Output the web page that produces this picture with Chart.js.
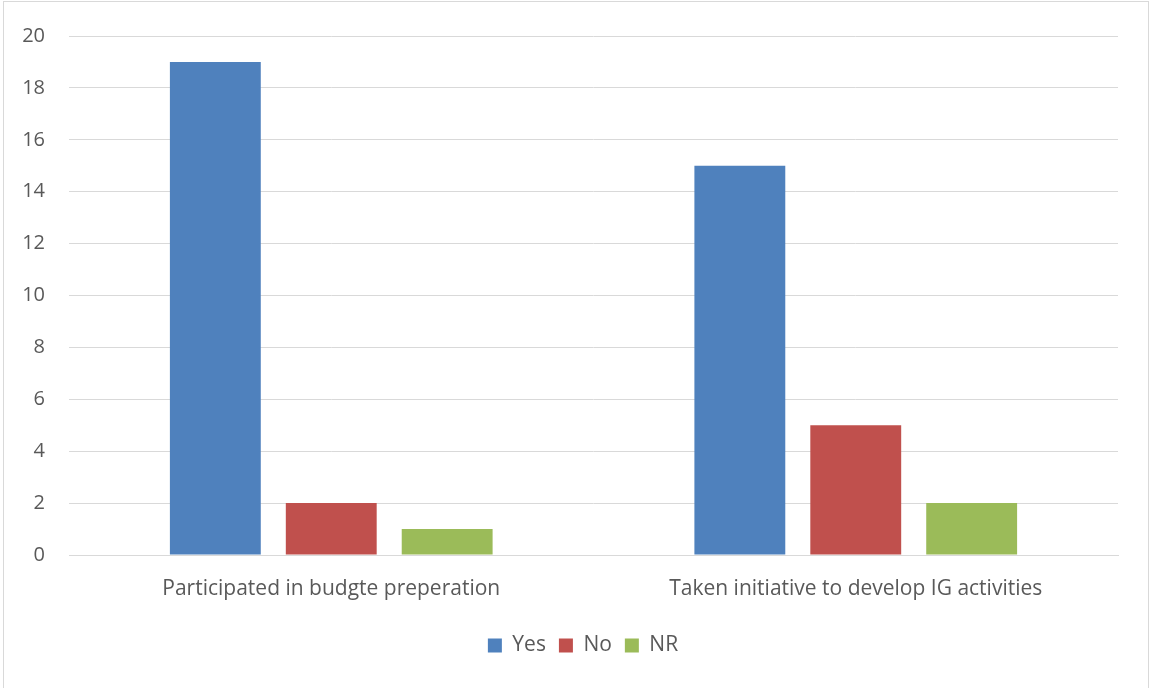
<!DOCTYPE html>
<html>
<head>
<meta charset="utf-8">
<script src="https://cdn.jsdelivr.net/npm/chart.js@4"></script>
<style>
  body { margin: 0; background: #fff; }
  #wrap { position: absolute; left: 0; top: 0; width: 1153px; height: 688px; }
  #frame { position: absolute; left: 3px; top: 1px; width: 1146px; height: 690px; border: 1px solid #d9d9d9; box-sizing: border-box; }
</style>
</head>
<body>
<div id="wrap">
  <div id="frame"></div>
  <canvas id="chart" width="1153" height="688"></canvas>
</div>
<script>
const categories = ["Participated in budgte preperation", "Taken initiative to develop IG activities"];
const seriesNames = ["Yes", "No", "NR"];
const yesValues = [19, 15];
const noValues = [2, 5];
const nrValues = [1, 2];
const colors = ["#4F81BD", "#C0504D", "#9BBB59"];

const fontFamily = "'Open Sans', Lato, sans-serif";
const textColor = "#595959";

// nudge the legend right so it sits where the original has it
const legendShift = {
    id: "legendShift",
    afterLayout(chart) {
        chart.legend.left += 24;
        chart.legend.right += 24;
    }
};

new Chart(document.getElementById("chart"), {
    type: "bar",
    data: {
        labels: categories,
        datasets: [yesValues, noValues, nrValues].map((vals, i) => ({
            label: seriesNames[i],
            data: vals,
            backgroundColor: colors[i],
            categoryPercentage: 0.663,
            barPercentage: 0.784
        }))
    },
    options: {
        responsive: false,
        animation: false,
        layout: { padding: { left: 0, right: 35, top: 36, bottom: 22 } },
        plugins: {
            tooltip: { enabled: false },
            legend: {
                position: "bottom",
                labels: {
                    color: textColor,
                    font: { family: fontFamily, size: 21 },
                    boxWidth: 14,
                    boxHeight: 14,
                    padding: 13
                }
            }
        },
        scales: {
            x: {
                grid: { display: false },
                border: { color: "#d9d9d9" },
                ticks: { color: textColor, font: { family: fontFamily, size: 21 }, padding: 13 },
                afterFit: axis => { axis.height = 67; }
            },
            y: {
                min: 0,
                max: 20,
                ticks: { stepSize: 2, color: textColor, font: { family: fontFamily, size: 20 }, padding: 24 },
                grid: { color: "#d9d9d9", drawTicks: false },
                border: { display: false },
                afterFit: axis => { axis.width = 69; }
            }
        }
    },
    plugins: [legendShift]
});
</script>
</body>
</html>
